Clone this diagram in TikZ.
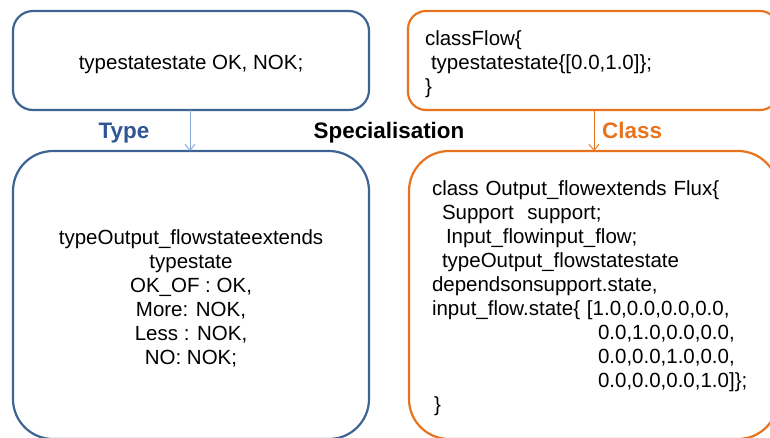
\documentclass[tikz,border=0pt]{standalone}
\usepackage{fontspec}
\setmainfont{Liberation Sans}
\usetikzlibrary{arrows.meta}
\definecolor{boxblue}{HTML}{3E6494}
\definecolor{arrowblue}{HTML}{86A8D8}
\definecolor{typeblue}{HTML}{2F5592}
\definecolor{boxorange}{HTML}{E8731E}
\newcommand{\tallstrut}{\rule{0pt}{22pt}}
\begin{document}
\begin{tikzpicture}[x=1pt,y=-1pt,
  bluebox/.style={draw=boxblue,line width=2.2pt,align=center,inner sep=0pt,
    font=\fontsize{20.5}{24}\selectfont},
  orangebox/.style={draw=boxorange,line width=2.2pt,align=left,inner sep=0pt,
    font=\fontsize{20.5}{24}\selectfont},
  lbl/.style={font=\fontsize{22.4}{26}\selectfont\bfseries,anchor=base,inner sep=0pt},
  conn/.style={line width=0.9pt,-{Straight Barb[length=6pt,width=10pt,line width=0.9pt]}}]
\useasboundingbox (0,0) rectangle (770,437);
% boxes
\node[bluebox,rounded corners=20pt,minimum width=356pt,minimum height=99pt]
  (tl) at (191,60.5) {\tallstrut typestatestate OK, NOK;};
\node[bluebox,rounded corners=40pt,minimum width=356pt,minimum height=288pt]
  (bl) at (191,295) {\tallstrut typeOutput\_flowstateextends\\typestate\\OK\_OF : OK,\\More: NOK,\\Less : NOK,\\NO: NOK;};
\node[orangebox,rounded corners=18pt,minimum width=370pt,minimum height=99pt,
  text width=336pt,inner xsep=17pt]
  (tr) at (593,60.5) {\tallstrut classFlow\{\\\hspace*{6pt}typestatestate\{[0.0,1.0]\};\\\}};
\node[orangebox,rounded corners=40pt,minimum width=369pt,minimum height=288pt,
  text width=323pt,inner xsep=23pt]
  (br) at (593.5,295) {\tallstrut class Output\_flowextends Flux\{\\
\hspace*{10pt}Support\ \ support;\\
\hspace*{14pt}Input\_flowinput\_flow;\\
\hspace*{10pt}typeOutput\_flowstatestate\\
dependsonsupport.state,\\
input\_flow.state\{ [1.0,0.0,0.0,0.0,\\
\hspace*{166pt}0.0,1.0,0.0,0.0,\\
\hspace*{166pt}0.0,0.0,1.0,0.0,\\
\hspace*{166pt}0.0,0.0,0.0,1.0]\};\\
\hspace*{2pt}\}};
% connectors
\coordinate (ta) at (190,110);
\coordinate (tb) at (190,151);
\coordinate (ca) at (594,110);
\coordinate (cb) at (594,151);
\draw[conn,arrowblue] (ta) -- (tb);
\draw[conn,boxorange] (ca) -- (cb);
% labels
\node[lbl,text=typeblue] (type) at (124,138) {Type};
\node[lbl,text=black] (spec) at (389,138) {Specialisation};
\node[lbl,text=boxorange,anchor=base west] (class) at (602,138) {Class};
\end{tikzpicture}
\end{document}
